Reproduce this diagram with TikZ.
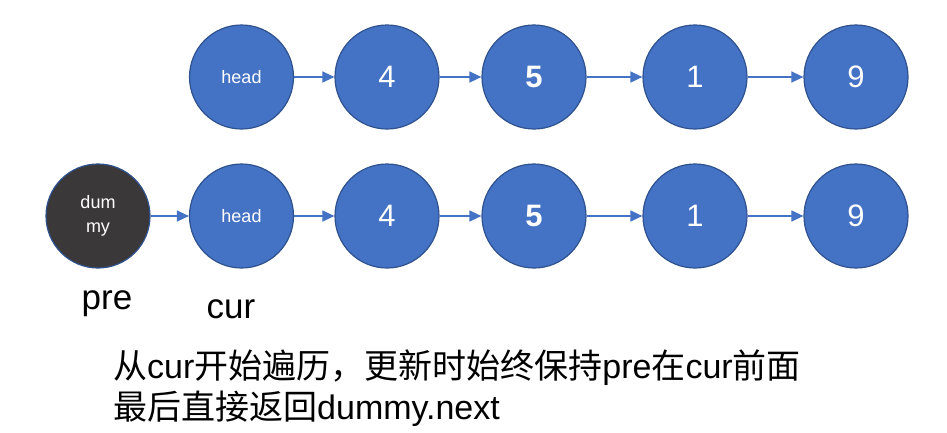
\documentclass[tikz,border=0pt]{standalone}
\usepackage{fontspec}
\setmainfont{Liberation Sans}
\newfontfamily\cjk{Noto Sans CJK SC}
\usetikzlibrary{arrows.meta}
\definecolor{nodeblue}{HTML}{4472C4}
\definecolor{edgeblue}{HTML}{2F528F}
\definecolor{dummyfill}{HTML}{3A3838}
\tikzset{
  x=1pt,y=-1pt,
  lnode/.style={circle,draw=edgeblue,fill=nodeblue,line width=1.2pt,minimum size=104pt,inner sep=0pt,text=white,font=\fontsize{31}{33}\selectfont},
  hnode/.style={lnode,font=\fontsize{18}{20}\selectfont},
  dnode/.style={lnode,fill=dummyfill,font=\fontsize{18}{24}\selectfont,align=center},
  link/.style={draw=nodeblue,line width=1.3pt,-{Triangle[length=12pt,width=11pt]}},
  lbl/.style={font=\fontsize{35}{38}\selectfont,inner sep=0pt},
  txt/.style={font=\fontsize{34}{38}\selectfont,inner sep=0pt,anchor=west},
}
\begin{document}
\begin{tikzpicture}
\useasboundingbox (0,0) rectangle (947,432);
\node[hnode] (h1) at (241.5,77) {head};
\node[lnode] (a1) at (387,77) {4};
\node[lnode] (b1) at (534,77) {\bfseries 5};
\node[lnode] (c1) at (695,77) {1};
\node[lnode] (d1) at (856,77) {9};
\node[dnode] (dm) at (98,216) {dum\\my};
\node[hnode] (h2) at (241.5,216) {head};
\node[lnode] (a2) at (387,216) {4};
\node[lnode] (b2) at (534,216) {\bfseries 5};
\node[lnode] (c2) at (695,216) {1};
\node[lnode] (d2) at (856,216) {9};
\draw[link] (h1) -- (a1);
\draw[link] (a1) -- (b1);
\draw[link] (b1) -- (c1);
\draw[link] (c1) -- (d1);
\draw[link] (dm) -- (h2);
\draw[link] (h2) -- (a2);
\draw[link] (a2) -- (b2);
\draw[link] (b2) -- (c2);
\draw[link] (c2) -- (d2);
\node[lbl] (pre) at (107,304) {pre};
\node[lbl] (cur) at (231,309) {cur};
\node[txt] (t1) at (113,368) {{\cjk 从}cur{\cjk 开始遍历，更新时始终保持}pre{\cjk 在}cur{\cjk 前面}};
\node[txt] (t2) at (113,409) {{\cjk 最后直接返回}dummy.next};
\end{tikzpicture}
\end{document}
